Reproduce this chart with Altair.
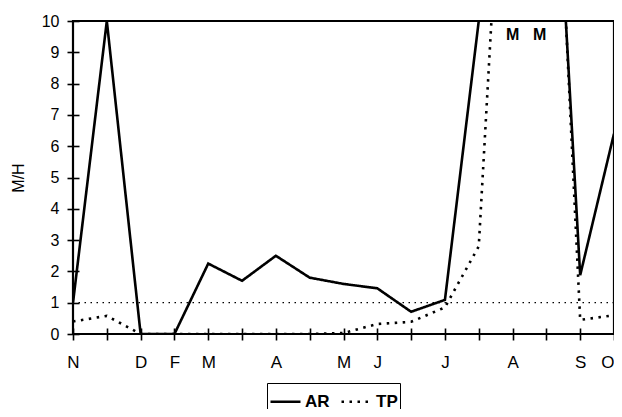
import altair as alt
import pandas as pd

# x positions: 17 ticks (Nov .. Oct, half-month steps)
x_pos = list(range(17))
x_labels = ["N", "", "D", "F", "M", "", "A", "", "M", "J", "", "J", "", "A", "", "S", "O"]
y_ticks = list(range(11))

ar_values = [1.0, 10.0, 0.0, 0.0, 2.25, 1.7, 2.5, 1.8, 1.6, 1.46, 0.71, 1.09, 10.0, 40.0, 21.0, 1.88, 6.4]
tp_values = [0.4, 0.58, 0.0, 0.0, 0.0, 0.0, 0.0, 0.0, 0.03, 0.32, 0.39, 0.85, 2.8, 22.0, 23.0, 0.45, 0.6]

threshold = 1.0
m_text = ["M", "M"]
m_x = [13.0, 13.8]
m_y = [9.55, 9.55]

rows = []
for x, a, t in zip(x_pos, ar_values, tp_values):
    rows.append({"x": x, "v": a, "s": "AR"})
    rows.append({"x": x, "v": t, "s": "TP"})
df = pd.DataFrame(rows)

label_expr = "[" + ",".join('"%s"' % l for l in x_labels) + "][datum.value]"

FONT = "Liberation Sans"
W, H = 541, 313

xscale = alt.Scale(domain=[0, 16], nice=False, zero=False)
yscale = alt.Scale(domain=[0, 10], nice=False)

xaxis = alt.Axis(values=x_pos, labelExpr=label_expr, title=None, grid=False,
                 domain=False, offset=-6, tickSize=12, tickColor="#000000",
                 tickWidth=1.6, labelPadding=14, labelFont=FONT, labelFontSize=17,
                 labelColor="black", labelFlush=False, labelOverlap=False,
                 labelAlign={"expr": "datum.value == 16 ? 'right' : 'center'"})
yaxis = alt.Axis(values=y_ticks, title="M/H", grid=False, domain=False,
                 offset=-6, tickSize=12, tickColor="#000000", tickWidth=1.6,
                 labelPadding=8, labelFont=FONT, labelFontSize=16,
                 labelColor="black", labelOverlap=False,
                 titleFont=FONT, titleFontSize=16,
                 titleFontWeight="normal", titleColor="black", titlePadding=15)
blank = alt.Axis(labels=False, ticks=False, domain=False, grid=False, title=None)

lines = alt.Chart(df).mark_line(clip=True, strokeWidth=2.6, color="black").encode(
    x=alt.X("x:Q", scale=xscale, axis=xaxis),
    y=alt.Y("v:Q", scale=yscale, axis=yaxis),
    strokeDash=alt.StrokeDash("s:N", scale=alt.Scale(domain=["AR", "TP"], range=[[1, 0], [2.5, 5.5]]),
                              legend=alt.Legend(title=None, orient="none", legendX=194, legendY=362,
                                                direction="horizontal", strokeColor="black",
                                                padding=2, symbolType="stroke", symbolStrokeWidth=2.6,
                                                symbolSize=900, symbolStrokeColor="black",
                                                labelFont=FONT, labelFontSize=17, labelFontWeight="bold",
                                                labelColor="black", columnPadding=6, labelOffset=3)),
)

ref = alt.Chart(pd.DataFrame({"y": [threshold]})).mark_rule(
    color="black", strokeWidth=1.3, strokeDash=[1.5, 4.5]
).encode(y=alt.Y("y:Q", scale=yscale, axis=blank))

mtext = alt.Chart(pd.DataFrame({"x": m_x, "y": m_y, "t": m_text})).mark_text(
    font=FONT, fontSize=16, fontWeight="bold", color="black"
).encode(x=alt.X("x:Q", scale=xscale, axis=blank), y=alt.Y("y:Q", scale=yscale, axis=blank), text="t:N")

frame = alt.Chart(pd.DataFrame({"k": [0]})).mark_rect(
    filled=False, stroke="#000000", strokeWidth=2.2
).encode(x=alt.value(0), x2=alt.value(W), y=alt.value(0), y2=alt.value(H))

chart = alt.layer(lines, ref, mtext, frame).resolve_axis(
    x="independent", y="independent"
).properties(
    width=W, height=H,
    background="white",
    autosize=alt.AutoSizeParams(type="none"),
    padding={"left": 65, "top": 13, "right": 0, "bottom": 75},
).configure_view(strokeWidth=0)

chart.save("out.html", embed_options={"renderer": "svg", "actions": False})
